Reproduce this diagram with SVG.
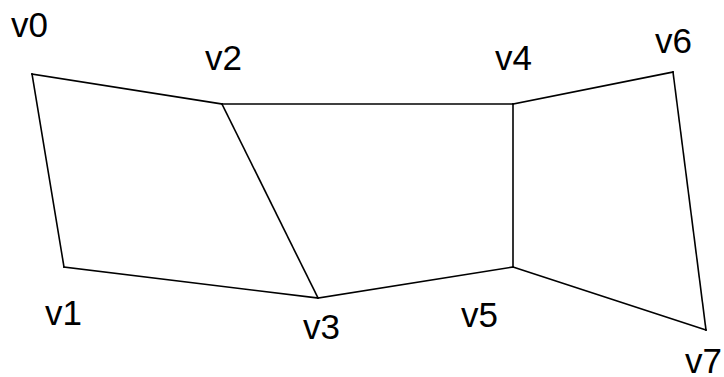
<svg xmlns="http://www.w3.org/2000/svg" width="724" height="377" viewBox="0 0 724 377">
<style>
.e{stroke:#000;stroke-width:1.6;fill:none;stroke-linecap:square}
.t{font-family:"Liberation Sans",Arial,sans-serif;font-size:35px;fill:#000}
</style>
<rect width="724" height="377" fill="#fff"/>
<g id="edges">
<line class="e" x1="32" y1="74" x2="64" y2="267"/>
<line class="e" x1="32" y1="74" x2="222" y2="104"/>
<line class="e" x1="64" y1="267" x2="318" y2="298"/>
<line class="e" x1="222" y1="104" x2="318" y2="298"/>
<line class="e" x1="222" y1="104" x2="513" y2="104"/>
<line class="e" x1="318" y1="298" x2="513" y2="267"/>
<line class="e" x1="513" y1="104" x2="513" y2="267"/>
<line class="e" x1="513" y1="104" x2="673" y2="72"/>
<line class="e" x1="513" y1="267" x2="706" y2="330"/>
<line class="e" x1="673" y1="72" x2="706" y2="330"/>
</g>
<g id="v0"><text class="t" x="11" y="37">v0</text></g>
<g id="v1"><text class="t" x="45" y="325">v1</text></g>
<g id="v2"><text class="t" x="205" y="70">v2</text></g>
<g id="v3"><text class="t" x="303" y="339">v3</text></g>
<g id="v4"><text class="t" x="495" y="70">v4</text></g>
<g id="v5"><text class="t" x="461" y="327">v5</text></g>
<g id="v6"><text class="t" x="655" y="53">v6</text></g>
<g id="v7"><text class="t" x="685" y="373">v7</text></g>
</svg>
